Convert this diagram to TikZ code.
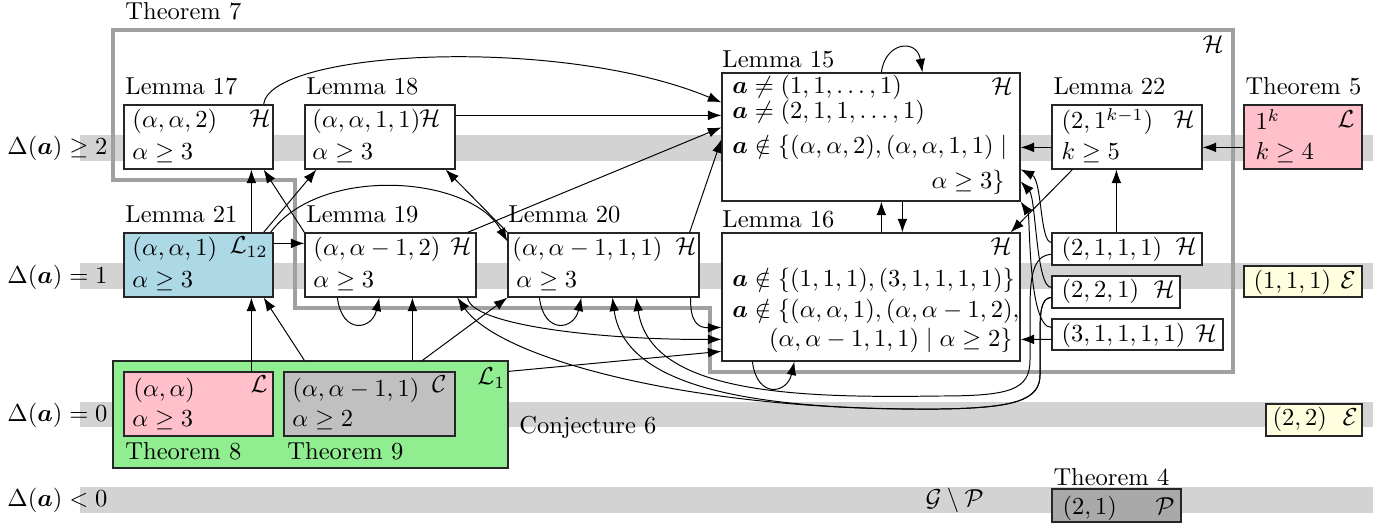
\documentclass[tikz,border=0pt]{standalone}
\usepackage{amsmath,amssymb}
\usetikzlibrary{arrows.meta,calc,fit}
\definecolor{bandgray}{RGB}{211,211,211}
\definecolor{framegray}{RGB}{160,160,160}
\definecolor{mypink}{RGB}{255,192,203}
\definecolor{myblue}{RGB}{173,216,230}
\definecolor{mygreen}{RGB}{144,238,144}
\definecolor{mysilver}{RGB}{192,192,192}
\definecolor{mydark}{RGB}{169,169,169}
\definecolor{myyellow}{RGB}{255,255,224}
\begin{document}
\begin{tikzpicture}[x=0.408pt,y=-0.408pt,
  box/.style={draw=black!85, line width=0.5pt, inner sep=0pt, fill=white},
  t/.style={inner sep=0pt, anchor=base west},
  te/.style={inner sep=0pt, anchor=base east},
  arr/.style={-{Latex[length=5.5pt,width=4pt]}, line width=0.4pt},
  frm/.style={draw=framegray, line width=1.4pt}
]
\useasboundingbox (0,0) rectangle (1387,525);
% bands
\fill[bandgray] (80,135) rectangle (1373,161);
\fill[bandgray] (80,263) rectangle (1373,289);
\fill[bandgray] (80,402) rectangle (1373,427);
\fill[bandgray] (80,487) rectangle (1373,513);
% level labels
\node[t] (d2) at (7,155) {$\Delta(\boldsymbol{a}) \geq 2$};
\node[t] (d1) at (7,284) {$\Delta(\boldsymbol{a}) = 1$};
\node[t] (d0) at (7,422) {$\Delta(\boldsymbol{a}) = 0$};
\node[t] (dm) at (7,507) {$\Delta(\boldsymbol{a}) < 0$};
% Theorem 7 frame
\draw[frm] (113,30) -- (1233,30) -- (1233,372) -- (710,372) -- (710,308) -- (295,308) -- (295,180) -- (113,180) -- cycle;
\node[t] (t7) at (125,20) {Theorem 7};
\node[te] (t7h) at (1224,53) {$\mathcal{H}$};
% boxes
\node[box, fit={(124,105)(273,169)}] (L17) {};
\node[box, fit={(305,105)(455,169)}] (L18) {};
\node[box, fit={(722,73)(1020,201)}] (L15) {};
\node[box, fit={(1052,105)(1202,169)}] (L22) {};
\node[box, fill=mypink, fit={(1244,105)(1362,169)}] (T5) {};
\node[box, fill=myblue, fit={(124,233)(273,297)}] (L21) {};
\node[box, fit={(305,233)(476,297)}] (L19) {};
\node[box, fit={(508,233)(699,297)}] (L20) {};
\node[box, fit={(722,233)(1020,361)}] (L16) {};
\node[box, fit={(1052,233)(1202,265)}] (B2111) {};
\node[box, fit={(1052,276)(1180,308)}] (B221) {};
\node[box, fit={(1052,319)(1223,350)}] (B31111) {};
\node[box, fill=myyellow, fit={(1244,266)(1362,297)}] (E111) {};
\node[box, fill=myyellow, fit={(1266,404)(1362,436)}] (E22) {};
\node[box, fill=mydark, fit={(1052,489)(1181,522)}] (P21) {};
\node[box, fill=mygreen, fit={(113,361)(508,468)}] (G) {};
\node[box, fill=mypink, fit={(124,372)(273,436)}] (T8) {};
\node[box, fill=mysilver, fit={(284,372)(455,436)}] (T9) {};
% labels above boxes
\node[t] (lab17) at (125,95) {Lemma 17};
\node[t] (lab18) at (306,95) {Lemma 18};
\node[t] (lab15) at (722,68) {Lemma 15};
\node[t] (lab22) at (1053,95) {Lemma 22};
\node[t] (labT5) at (1245,95) {Theorem 5};
\node[t] (lab21) at (125,223) {Lemma 21};
\node[t] (lab19) at (306,223) {Lemma 19};
\node[t] (lab20) at (508,223) {Lemma 20};
\node[t] (lab16) at (722,228) {Lemma 16};
\node[t] (labT8) at (125,460) {Theorem 8};
\node[t] (labT9) at (287,460) {Theorem 9};
\node[t] (labC6) at (519,434) {Conjecture 6};
\node[t] (labT4) at (1053,485) {Theorem 4};
\node[t] (gp) at (925,507) {$\mathcal{G}\setminus\mathcal{P}$};
% box contents
\node[t] (a17) at (132,128) {$(\alpha,\alpha,2)$};
\node[te] (h17) at (271,127) {$\mathcal{H}$};
\node[t] (b17) at (132,160) {$\alpha\geq 3$};
\node[t] (a18) at (312,128) {$(\alpha,\alpha,1,1)$};
\node[t] (h18) at (419,127) {$\mathcal{H}$};
\node[t] (b18) at (312,160) {$\alpha\geq 3$};
\node[t] (a15) at (732,94) {$\boldsymbol{a}\neq(1,1,\ldots,1)$};
\node[te] (h15) at (1013,95) {$\mathcal{H}$};
\node[t] (b15) at (732,119) {$\boldsymbol{a}\neq(2,1,1,\ldots,1)$};
\node[t] (c15) at (732,154) {$\boldsymbol{a}\notin\{(\alpha,\alpha,2),(\alpha,\alpha,1,1)\mid$};
\node[te] (d15) at (1005,189) {$\alpha\geq 3\}$};
\node[t] (a22) at (1061,129) {$(2,1^{k-1})$};
\node[te] (h22) at (1195,128) {$\mathcal{H}$};
\node[t] (b22) at (1061,160) {$k\geq 5$};
\node[t] (aT5) at (1255,130) {$1^k$};
\node[te] (hT5) at (1355,128) {$\mathcal{L}$};
\node[t] (bT5) at (1255,160) {$k\geq 4$};
\node[t] (a21) at (132,256) {$(\alpha,\alpha,1)$};
\node[te] (h21) at (268,254) {$\mathcal{L}_{12}$};
\node[t] (b21) at (132,288) {$\alpha\geq 3$};
\node[t] (a19) at (313,256) {$(\alpha,\alpha-1,2)$};
\node[t] (h19) at (450,255) {$\mathcal{H}$};
\node[t] (b19) at (313,288) {$\alpha\geq 3$};
\node[t] (a20) at (512,256) {$(\alpha,\alpha-1,1,1)$};
\node[t] (h20) at (675,255) {$\mathcal{H}$};
\node[t] (b20) at (516,288) {$\alpha\geq 3$};
\node[te] (h16) at (1012,255) {$\mathcal{H}$};
\node[t] (a16) at (732,287) {$\boldsymbol{a}\notin\{(1,1,1),(3,1,1,1,1)\}$};
\node[t] (b16) at (732,318) {$\boldsymbol{a}\notin\{(\alpha,\alpha,1),(\alpha,\alpha-1,2),$};
\node[te] (c16) at (1013,347) {$(\alpha,\alpha-1,1,1)\mid\alpha\geq 2\}$};
\node[t] (aB1) at (1061,256) {$(2,1,1,1)$};
\node[t] (hB1) at (1175,255) {$\mathcal{H}$};
\node[t] (aB2) at (1061,298) {$(2,2,1)$};
\node[t] (hB2) at (1153,298) {$\mathcal{H}$};
\node[t] (aB3) at (1061,342) {$(3,1,1,1,1)$};
\node[t] (hB3) at (1195,342) {$\mathcal{H}$};
\node[t] (aE1) at (1253,289) {$(1,1,1)$};
\node[t] (hE1) at (1340,289) {$\mathcal{E}$};
\node[t] (aE2) at (1272,426) {$(2,2)$};
\node[t] (hE2) at (1342,426) {$\mathcal{E}$};
\node[t] (aP) at (1062,514) {$(2,1)$};
\node[t] (hP) at (1155,514) {$\mathcal{P}$};
\node[t] (aT8) at (133,397) {$(\alpha,\alpha)$};
\node[te] (hT8) at (268,393) {$\mathcal{L}$};
\node[t] (bT8) at (132,427) {$\alpha\geq 3$};
\node[t] (aT9) at (292,397) {$(\alpha,\alpha-1,1)$};
\node[te] (hT9) at (447,393) {$\mathcal{C}$};
\node[t] (bT9) at (292,427) {$\alpha\geq 2$};
\node[t] (hG) at (477,385) {$\mathcal{L}_1$};
% connectors
\draw[arr] ($(L17.north east)+(-10,0)$) .. controls (270,50) and (560,35) .. ($(L15.north west)+(0,30)$);
\draw[arr] ($(L18.north east)+(0,11)$) -- ($(L15.north west)+(0,43)$);
\draw[arr] ($(L19.north east)+(-9,0)$) -- ($(L15.north west)+(0,55)$);
\draw[arr] ($(L20.north east)+(-10,0)$) -- ($(L15.north west)+(0,67)$);
\draw[arr] ($(L21.north west)+(128,0)$) -- ($(L17.south west)+(128,0)$);
\draw[arr] (L19.north west) -- ($(L17.south east)+(-10,0)$);
\draw[arr] ($(L21.north east)+(-10,0)$) -- ($(L18.south west)+(12,0)$);
\draw[arr] ($(L21.north east)+(-3,0)$) .. controls (320,165) and (470,175) .. ($(L20.north west)+(0,9)$);
\draw[arr] ($(L21.north east)+(0,11)$) -- ($(L19.north west)+(0,11)$);
\draw[arr] (L20.north west) -- ($(L18.south east)+(-10,0)$);
\draw[arr] ($(L19.south west)+(33,0)$) .. controls (342,335) and (372,330) .. ($(L19.south west)+(75,0)$);
\draw[arr] ($(L20.south west)+(32,0)$) .. controls (544,335) and (574,330) .. ($(L20.south west)+(74,0)$);
\draw[arr] ($(L16.south west)+(31,0)$) .. controls (757,399) and (787,394) .. ($(L16.south west)+(73,0)$);
\draw[arr] ($(L15.north west)+(160,0)$) .. controls (885,42) and (917,38) .. ($(L15.north west)+(201,0)$);
\draw[arr] ($(L16.north west)+(160,0)$) -- ($(L15.south west)+(160,0)$);
\draw[arr] ($(L15.south west)+(181,0)$) -- ($(L16.north west)+(181,0)$);
\draw[arr] ($(L22.north west)+(0,43)$) -- ($(L15.north east)+(0,75)$);
\draw[arr] ($(T5.north west)+(0,43)$) -- ($(L22.north east)+(0,43)$);
\draw[arr] ($(L22.south west)+(21,0)$) -- ($(L16.north east)+(-10,0)$);
\draw[arr] ($(B2111.north west)+(65,0)$) -- ($(L22.south west)+(65,0)$);
\draw[arr] ($(B31111.north west)+(0,21)$) -- ($(L16.north east)+(0,107)$);
\draw[arr] ($(B2111.north west)+(0,10)$) .. controls (1040,243) and (1042,180) .. ($(L15.north east)+(0,97)$);
\draw[arr] ($(B221.north west)+(0,12)$) .. controls (1036,288) and (1036,198) .. ($(L15.north east)+(0,109)$);
\draw[arr] ($(B31111.north west)+(0,9)$) .. controls (1028,328) and (1030,215) .. (L15.south east);
\draw[arr] ($(B2111.north west)+(0,22)$) .. controls (1032,255) and (1030,280) .. (1030,310) -- (1030,360) .. controls (1030,390) and (1010,396) .. (940,396) .. controls (800,398) and (650,395) .. ($(L20.south west)+(129,0)$);
\draw[arr] ($(B221.north west)+(0,22)$) .. controls (1040,298) and (1040,315) .. (1040,340) -- (1040,375) .. controls (1040,400) and (1015,408) .. (940,409) .. controls (760,410) and (625,390) .. ($(L20.south west)+(105,0)$);
\draw[arr] ($(B221.north west)+(0,22)$) .. controls (1040,298) and (1040,315) .. (1040,340) -- (1040,375) .. controls (1040,400) and (1015,408) .. (940,409) .. controls (700,412) and (500,360) .. ($(L19.south west)+(153,0)$);
\draw[arr] ($(L20.south east)+(-9,0)$) .. controls (690,322) and (698,328) .. ($(L16.north west)+(0,95)$);
\draw[arr] ($(L19.south east)+(-9,0)$) .. controls (470,325) and (600,340) .. ($(L16.north west)+(0,107)$);
\draw[arr] ($(G.north east)+(0,11)$) -- ($(L16.north west)+(0,119)$);
\draw[arr] ($(T8.north west)+(128,0)$) -- ($(L21.south west)+(128,0)$);
\draw[arr] ($(G.north west)+(192,0)$) -- ($(L21.south east)+(-10,0)$);
\draw[arr] ($(G.north west)+(300,0)$) -- ($(L19.south west)+(108,0)$);
\draw[arr] ($(G.north west)+(310,0)$) -- (L20.south west);
\end{tikzpicture}
\end{document}
